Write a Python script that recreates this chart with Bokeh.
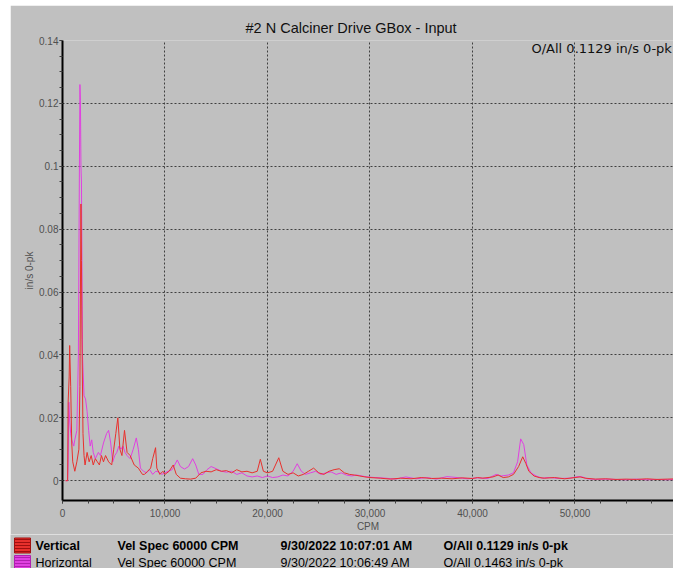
from bokeh.plotting import figure
from bokeh.models import (FixedTicker, NumeralTickFormatter, Range1d, Label, Title, ColumnDataSource, Spacer)
from bokeh.layouts import column, row
from bokeh.embed import file_html
from bokeh.resources import INLINE
from bokeh.core.properties import value

# ---------------- data ----------------
title_text = "#2 N Calciner Drive GBox - Input"
overall_text = "O/All 0.1129 in/s 0-pk"
x_label = "CPM"
y_label = "in/s 0-pk"
x_ticks = [0, 10000, 20000, 30000, 40000, 50000, 60000]
y_ticks = [0, 0.02, 0.04, 0.06, 0.08, 0.10, 0.12, 0.14]

vert_cpm = [300, 500, 550, 650, 700, 800, 900, 1000, 1200, 1400, 1600, 1700, 1750, 1800, 1850,
            1900, 2000, 2100, 2200, 2400, 2600, 2800, 3000, 3200, 3400, 3600, 3800, 4000, 4200,
            4500, 4800, 5000, 5200, 5400, 5600, 5800, 6050, 6300, 6600, 7000, 7400, 7800, 8000,
            8300, 8600, 8800, 9080, 9200, 9500, 9800, 10000, 10400, 10800, 11100, 11500, 12000,
            12500, 13000, 13500, 14000, 14500, 15000, 15500, 16000, 16500, 17000, 17500, 18000,
            18500, 19000, 19300, 19600, 20000, 20500, 21100, 21500, 22000, 22500, 23000, 23500,
            24000, 24500, 25000, 25500, 26000, 26500, 27000, 27500, 28000, 28500, 29000, 29500,
            30000, 31000, 32000, 33000, 34000, 35000, 36000, 37000, 38000, 39000, 40000, 40500,
            41000, 42000, 42500, 43000, 43500, 44000, 44500, 44900, 45200, 45500, 46000, 46500,
            47000, 48000, 49000, 50000, 50500, 51000, 52000, 53000, 54000, 55000, 56000, 57000,
            58000, 59000, 60000]
vert_val = [0.0, 0.0, 0.025, 0.033, 0.043, 0.030, 0.012, 0.006, 0.003, 0.006, 0.010, 0.030, 0.060,
            0.088, 0.070, 0.045, 0.015, 0.008, 0.005, 0.009, 0.006, 0.008, 0.005, 0.007, 0.006,
            0.005, 0.008, 0.006, 0.008, 0.006, 0.005, 0.010, 0.015, 0.020, 0.010, 0.008, 0.016,
            0.009, 0.008, 0.005, 0.004, 0.002, 0.002, 0.003, 0.004, 0.007, 0.0105, 0.004, 0.002,
            0.003, 0.002, 0.003, 0.005, 0.002, 0.0008, 0.0006, 0.0005, 0.0008, 0.0025, 0.003,
            0.0028, 0.0035, 0.003, 0.0032, 0.0025, 0.0035, 0.0028, 0.003, 0.0025, 0.003, 0.0068,
            0.003, 0.0025, 0.003, 0.0073, 0.003, 0.002, 0.0025, 0.0015, 0.002, 0.003, 0.004,
            0.0025, 0.002, 0.003, 0.0035, 0.0038, 0.0025, 0.002, 0.0018, 0.0015, 0.0012, 0.001,
            0.0008, 0.0005, 0.0008, 0.0006, 0.001, 0.0007, 0.0008, 0.0006, 0.0009, 0.0007, 0.001,
            0.0008, 0.0012, 0.0018, 0.001, 0.0012, 0.002, 0.0045, 0.0076, 0.0055, 0.003, 0.0015,
            0.001, 0.0008, 0.001, 0.0006, 0.001, 0.0012, 0.0008, 0.0005, 0.0006, 0.0004, 0.0005,
            0.0004, 0.0006, 0.0004, 0.0005, 0.0006]

horiz_cpm = [300, 500, 550, 620, 700, 800, 900, 1000, 1100, 1200, 1400, 1550, 1650, 1700, 1750,
             1800, 1850, 1950, 2100, 2250, 2400, 2550, 2700, 2850, 3000, 3200, 3500, 3700, 4000,
             4300, 4500, 4700, 4900, 5100, 5300, 5500, 5700, 5900, 6100, 6300, 6600, 6900, 7200,
             7400, 7600, 7900, 8200, 8500, 8800, 9100, 9400, 9700, 10000, 10300, 10700, 11200,
             11500, 11900, 12300, 12700, 13000, 13300, 13700, 14100, 14500, 15000, 15500, 16000,
             16500, 17000, 17500, 18000, 18500, 19000, 19500, 20000, 20500, 21000, 21500, 22000,
             22500, 22900, 23300, 23700, 24200, 24700, 25200, 25700, 26200, 26700, 27200, 27700,
             28200, 28700, 29200, 29700, 30500, 31500, 32500, 33500, 34500, 35500, 36500, 37500,
             38500, 39500, 40500, 41500, 42300, 42800, 43500, 44000, 44400, 44700, 45000, 45300,
             45700, 46200, 46800, 47500, 48500, 49500, 50300, 50700, 51200, 52000, 53000, 54000,
             55000, 56000, 57000, 58000, 59000, 60000]
horiz_val = [0.0, 0.0, 0.005, 0.025, 0.019, 0.015, 0.013, 0.012, 0.011, 0.013, 0.016, 0.040,
             0.100, 0.126, 0.121, 0.100, 0.095, 0.040, 0.027, 0.026, 0.022, 0.016, 0.011, 0.013,
             0.009, 0.007, 0.009, 0.008, 0.012, 0.015, 0.016, 0.012, 0.006, 0.008, 0.009, 0.011,
             0.010, 0.011, 0.009, 0.008, 0.007, 0.010, 0.0136, 0.010, 0.004, 0.003, 0.0025,
             0.0035, 0.002, 0.003, 0.0028, 0.002, 0.0025, 0.003, 0.0035, 0.0066, 0.0045, 0.0037,
             0.0045, 0.007, 0.005, 0.002, 0.002, 0.0035, 0.0045, 0.0038, 0.003, 0.0027, 0.003,
             0.002, 0.0025, 0.0015, 0.0012, 0.0015, 0.001, 0.0015, 0.001, 0.0012, 0.0018, 0.0015,
             0.003, 0.0054, 0.003, 0.002, 0.0025, 0.003, 0.002, 0.0025, 0.0028, 0.002, 0.0025,
             0.0018, 0.0015, 0.0018, 0.0015, 0.0012, 0.001, 0.0008, 0.0005, 0.0012, 0.0006,
             0.001, 0.0005, 0.0013, 0.001, 0.0006, 0.0009, 0.0007, 0.002, 0.0015, 0.0018, 0.0025,
             0.006, 0.0133, 0.0115, 0.005, 0.0025, 0.0015, 0.0008, 0.001, 0.0007, 0.0008, 0.0013,
             0.0012, 0.0006, 0.0004, 0.0005, 0.0004, 0.0003, 0.0005, 0.0003, 0.0004, 0.0003,
             0.0004]

legend_names = ["Vertical", "Horizontal"]
legend_specs = ["Vel Spec 60000 CPM", "Vel Spec 60000 CPM"]
legend_dates = ["9/30/2022 10:07:01 AM", "9/30/2022 10:06:49 AM"]
legend_overall = ["O/All 0.1129 in/s 0-pk", "O/All 0.1463 in/s 0-pk"]

# ---------------- style ----------------
RED = "#E8302C"
MAG = "#E040E0"
BG = "#C0C0C0"
FONT = "Liberation Sans"

p = figure(width=663, height=529, output_backend="svg", toolbar_location=None,
           x_range=Range1d(0, 59610), y_range=Range1d(-0.0063, 0.14),
           min_border_left=52, min_border_right=0, min_border_top=35, min_border_bottom=31)
p.frame_align = False
p.background_fill_color = BG
p.border_fill_color = BG
p.outline_line_color = None

p.title = Title(text=title_text, align="left", text_font=FONT, text_font_size="14.5px",
                text_font_style="normal", text_color="#101010", offset=183, standoff=9)

p.line(horiz_cpm, horiz_val, color=MAG, line_width=1)
p.line(vert_cpm, vert_val, color=RED, line_width=1)

p.xaxis.ticker = FixedTicker(ticks=x_ticks, minor_ticks=list(range(0, 60001, 2500)))
p.yaxis.ticker = FixedTicker(ticks=y_ticks, minor_ticks=[i * 0.005 for i in range(29)])
p.xaxis.formatter = NumeralTickFormatter(format="0,0")
p.yaxis.formatter = NumeralTickFormatter(format="0.[00]")

for ax in (p.xaxis[0], p.yaxis[0]):
    ax.axis_line_color = "#000000"
    ax.axis_line_width = 2
    ax.major_tick_line_color = "#404040"
    ax.minor_tick_line_color = "#404040"
    ax.major_tick_out = 3
    ax.major_tick_in = 0
    ax.minor_tick_out = 3
    ax.minor_tick_in = 0
    ax.major_label_text_font = FONT
    ax.major_label_text_font_size = "10px"
    ax.major_label_text_color = "#505050"
    ax.axis_label_text_font = FONT
    ax.axis_label_text_font_size = "10px"
    ax.axis_label_text_font_style = "normal"
    ax.axis_label_text_color = "#505050"

p.xaxis.axis_label = x_label
p.yaxis.axis_label = y_label
p.xaxis.major_label_standoff = 5
p.xaxis.axis_label_standoff = 1
p.yaxis.major_label_standoff = 1
p.yaxis.axis_label_standoff = 1

for g in (p.xgrid[0], p.ygrid[0]):
    g.grid_line_color = "#404040"
    g.grid_line_dash = "2 2"
    g.grid_line_width = 1

p.add_layout(Label(x=59450, y=0.1374, text=overall_text, text_font="DejaVu Sans",
                   text_font_size="13px", text_color="#101010", text_baseline="middle",
                   text_align="right"))

# ---------------- legend strip ----------------
lg = figure(width=663, height=34, output_backend="svg", toolbar_location=None,
            x_range=Range1d(0, 663), y_range=Range1d(34, 0),
            min_border=0, min_border_left=0, min_border_right=0, min_border_top=0,
            min_border_bottom=0)
lg.frame_align = False
lg.background_fill_color = BG
lg.border_fill_color = BG
lg.outline_line_color = None
lg.axis.visible = False
lg.grid.visible = False

row_y = [11, 28]
swatch_h = [15, 14]
src = ColumnDataSource(dict(x=[12, 12], y=row_y, h=swatch_h, c=[RED, MAG], hc=["#A01010", "#B020B0"]))
lg.rect(x="x", y="y", width=16, height="h", fill_color="c", line_color="hc", source=src,
        hatch_pattern="-", hatch_color="hc", hatch_scale=3, hatch_weight=1)

col_x = [25, 107, 270, 433]
for i in range(2):
    style = "bold" if i == 0 else "normal"
    texts = [legend_names[i], legend_specs[i], legend_dates[i], legend_overall[i]]
    lg.text(x=col_x, y=[row_y[i]] * 4, text=texts, text_font=value(FONT),
            text_font_size="12.5px", text_font_style=style, text_color="#000000",
            text_baseline="middle", text_align="left")

layout = column(Spacer(height=5), row(Spacer(width=10), column(p, lg, spacing=0), spacing=0),
                spacing=0)
open("out.html", "w").write(file_html(layout, INLINE))
